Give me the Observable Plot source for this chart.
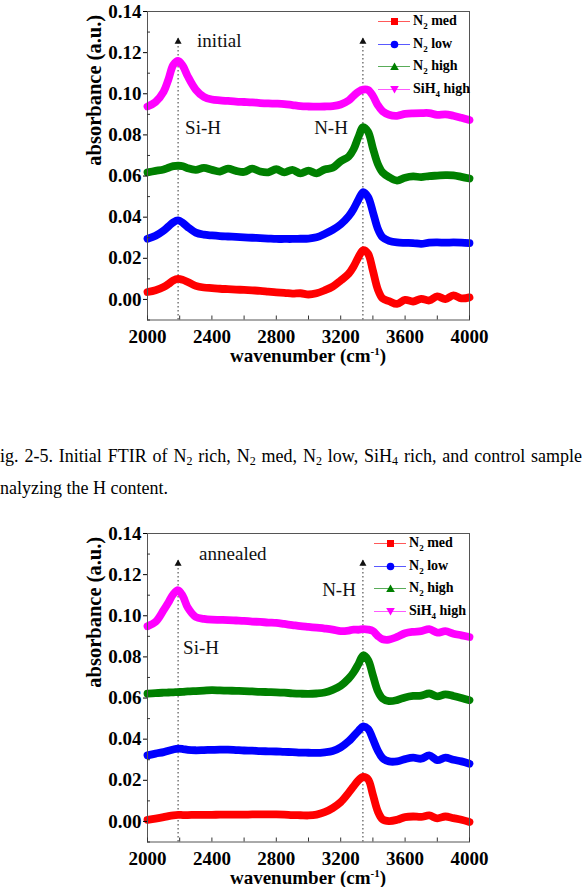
<!DOCTYPE html>
<html>
<head>
<meta charset="utf-8">
<script src="https://cdn.jsdelivr.net/npm/d3@7"></script>
<script src="https://cdn.jsdelivr.net/npm/@observablehq/plot@0.6"></script>
<style>
  html, body { margin: 0; padding: 0; background: #fff; }
  body { width: 588px; height: 887px; overflow: hidden; position: relative;
         font-family: "Liberation Serif", "Times New Roman", serif; }
  .panel { position: absolute; left: 0; width: 588px; }
  .panel svg { display: block; }
  .xtitle { position: absolute; left: 147px; width: 322px; text-align: center;
            font-size: 19px; font-weight: bold; line-height: 1; }
  .xtitle sup { font-size: 11px; vertical-align: 7px; }
  .legend { position: absolute; font-size: 14px; font-weight: bold; line-height: 1; }
  .legend .row { position: absolute; left: 0; height: 16px; white-space: nowrap; }
  .legend svg { position: absolute; left: 0; top: 0; overflow: visible; }
  .legend span.t { position: absolute; top: 0; }
  .legend sub { font-size: 9px; vertical-align: -4px; }
  .caption { position: absolute; font-size: 18px; white-space: nowrap; line-height: 1; }
  .caption sub { font-size: 12px; vertical-align: -3px; }
</style>
</head>
<body>
<script>
// Sampling grid in wavenumber (cm^-1) shared by every spectrum
const wavenumbers = [2000,2050,2100,2130,2160,2190,2220,2250,2300,2350,2400,2450,2500,2550,2600,2650,2700,2750,2800,2850,2900,2950,3000,3050,3100,3150,3200,3250,3280,3310,3340,3370,3400,3430,3460,3500,3550,3600,3650,3700,3750,3800,3850,3900,3950,4000];

// As-deposited (initial) absorbance
const initialN2med = [0.0036,0.0045,0.0060,0.0075,0.0092,0.0100,0.0095,0.0085,0.0066,0.0058,0.0055,0.0052,0.0050,0.0048,0.0046,0.0044,0.0042,0.0038,0.0034,0.0032,0.0028,0.0030,0.0024,0.0030,0.0044,0.0062,0.0092,0.0125,0.0160,0.0205,0.0240,0.0222,0.0140,0.0050,0.0005,-0.0008,-0.0022,-0.0002,-0.0010,0.0003,-0.0005,0.0015,0.0002,0.0020,0.0005,0.0010];
const initialN2low = [0.0295,0.0310,0.0335,0.0355,0.0375,0.0384,0.0372,0.0352,0.0325,0.0315,0.0311,0.0308,0.0306,0.0304,0.0302,0.0300,0.0298,0.0296,0.0294,0.0294,0.0294,0.0295,0.0296,0.0302,0.0318,0.0338,0.0365,0.0405,0.0440,0.0485,0.0522,0.0498,0.0425,0.0345,0.0302,0.0285,0.0277,0.0275,0.0274,0.0270,0.0276,0.0277,0.0276,0.0277,0.0276,0.0274];
const initialN2high = [0.0618,0.0625,0.0632,0.0640,0.0648,0.0650,0.0648,0.0638,0.0630,0.0640,0.0630,0.0622,0.0636,0.0625,0.0620,0.0636,0.0622,0.0618,0.0633,0.0618,0.0630,0.0613,0.0626,0.0613,0.0632,0.0640,0.0672,0.0695,0.0730,0.0790,0.0838,0.0815,0.0735,0.0660,0.0618,0.0595,0.0578,0.0592,0.0598,0.0595,0.0600,0.0602,0.0604,0.0603,0.0596,0.0588];
const initialSiH4high = [0.0938,0.0960,0.1010,0.1070,0.1140,0.1160,0.1135,0.1085,0.1020,0.0985,0.0972,0.0968,0.0965,0.0962,0.0960,0.0958,0.0955,0.0953,0.0952,0.0950,0.0945,0.0940,0.0938,0.0937,0.0938,0.0940,0.0948,0.0968,0.0990,0.1010,0.1020,0.1018,0.0990,0.0945,0.0915,0.0898,0.0893,0.0902,0.0905,0.0906,0.0906,0.0897,0.0900,0.0893,0.0883,0.0872];

// Absorbance after annealing
const annealedN2med = [0.0008,0.0014,0.0021,0.0026,0.0030,0.0032,0.0031,0.0031,0.0032,0.0032,0.0032,0.0033,0.0033,0.0033,0.0033,0.0034,0.0034,0.0034,0.0034,0.0033,0.0031,0.0030,0.0029,0.0033,0.0045,0.0065,0.0094,0.0140,0.0170,0.0200,0.0216,0.0205,0.0130,0.0050,0.0010,0.0002,0.0008,0.0021,0.0024,0.0022,0.0029,0.0015,0.0024,0.0016,0.0008,-0.0003];
const annealedN2low = [0.0321,0.0330,0.0337,0.0344,0.0350,0.0354,0.0352,0.0348,0.0346,0.0347,0.0348,0.0349,0.0349,0.0347,0.0345,0.0344,0.0342,0.0341,0.0340,0.0338,0.0337,0.0335,0.0334,0.0333,0.0336,0.0342,0.0360,0.0390,0.0415,0.0440,0.0462,0.0450,0.0400,0.0345,0.0308,0.0292,0.0292,0.0303,0.0310,0.0305,0.0321,0.0298,0.0310,0.0300,0.0292,0.0281];
const annealedN2high = [0.0621,0.0624,0.0626,0.0627,0.0628,0.0629,0.0630,0.0632,0.0634,0.0636,0.0638,0.0637,0.0636,0.0635,0.0634,0.0632,0.0630,0.0629,0.0628,0.0626,0.0623,0.0621,0.0620,0.0622,0.0627,0.0640,0.0660,0.0695,0.0725,0.0765,0.0808,0.0785,0.0710,0.0635,0.0598,0.0585,0.0590,0.0603,0.0610,0.0612,0.0622,0.0608,0.0618,0.0610,0.0600,0.0589];
const annealedSiH4high = [0.0949,0.0970,0.1027,0.1065,0.1105,0.1124,0.1095,0.1040,0.0994,0.0985,0.0981,0.0980,0.0979,0.0977,0.0975,0.0972,0.0970,0.0967,0.0965,0.0960,0.0955,0.0950,0.0946,0.0942,0.0938,0.0933,0.0925,0.0928,0.0933,0.0932,0.0935,0.0933,0.0926,0.0902,0.0886,0.0884,0.0897,0.0915,0.0922,0.0925,0.0935,0.0918,0.0925,0.0913,0.0905,0.0897];

// Samples, in legend order
const sampleKeys = ["N2 med", "N2 low", "N2 high", "SiH4 high"];
const sampleColors = ["#ff0000", "#0000ff", "#008000", "#ff00ff"];

// Axis ticks
const xTickLabels = [2000, 2400, 2800, 3200, 3600, 4000];
const xTickMinor = [2200, 2600, 3000, 3400, 3800];
const yTickLabels = [0.00, 0.02, 0.04, 0.06, 0.08, 0.10, 0.12, 0.14];
const yTickMinor = [-0.01, 0.01, 0.03, 0.05, 0.07, 0.09, 0.11, 0.13];

// Band assignments: Si-H stretch and N-H stretch positions
const bandWavenumbers = [2190, 3338];

// Panel annotations
const initialNotes = [
  {text: "initial", wn: 2190, abs: 0.1256, dx: 19, anchor: "start"},
  {text: "Si-H", wn: 2190, abs: 0.0835, dx: 7, anchor: "start"},
  {text: "N-H", wn: 3338, abs: 0.0835, dx: -15, anchor: "end"}
];
const annealedNotes = [
  {text: "annealed", wn: 2190, abs: 0.1303, dx: 21, anchor: "start"},
  {text: "Si-H", wn: 2190, abs: 0.0844, dx: 5, anchor: "start"},
  {text: "N-H", wn: 3338, abs: 0.1128, dx: -7, anchor: "end"}
];
const arrowTip = 0.1268;

function toRows(series) {
  const rows = [];
  series.forEach((values, k) => {
    values.forEach((abs, i) => rows.push({wn: wavenumbers[i], abs, sample: sampleKeys[k]}));
  });
  return rows;
}

const W = 588, H = 344;
const M = {top: 11, right: 119, bottom: 24.5, left: 147};
const innerW = W - M.left - M.right, innerH = H - M.top - M.bottom;
const serif = "'Liberation Serif', 'Times New Roman', serif";

// Each annotation carries its own offset and anchor
function notesMarks(notes) {
  return notes.map(n => Plot.text([n], {x: "wn", y: "abs", text: "text", dx: n.dx, textAnchor: n.anchor, fontSize: 19, fill: "#111"}));
}

function buildPanel(top, series, notes, legendPos) {
  const panel = document.createElement("div");
  panel.className = "panel";
  panel.style.top = top + "px";
  const rows = toRows(series);
  const svg = Plot.plot({
    width: W, height: H,
    marginTop: M.top, marginRight: M.right, marginBottom: M.bottom, marginLeft: M.left,
    style: {fontFamily: serif, background: "transparent", color: "#000", overflow: "visible"},
    x: {domain: [2000, 4000]},
    y: {domain: [-0.01, 0.14]},
    color: {domain: sampleKeys, range: sampleColors},
    marks: [
      Plot.ruleX(bandWavenumbers, {x: d => d, y1: -0.01, y2: arrowTip, stroke: "#333", strokeWidth: 1, strokeDasharray: "1.5,2.5"}),
      Plot.dot(bandWavenumbers, {x: d => d, y: arrowTip, dy: 3, symbol: "triangle", r: 2.6, fill: "#111", stroke: "none"}),
      Plot.line(rows, {x: "wn", y: "abs", z: "sample", stroke: "sample", strokeWidth: 7.8, curve: "catmull-rom", strokeLinecap: "round", strokeLinejoin: "round"}),
      Plot.frame({stroke: "#555", strokeWidth: 1}),
      Plot.tickX(xTickLabels.concat(xTickMinor), {x: d => d, insetTop: innerH - 4, stroke: "#333"}),
      Plot.tickY(yTickMinor, {y: d => d, insetRight: innerW - 3, stroke: "#333"}),
      Plot.axisX({ticks: xTickLabels, tickSize: 0, tickPadding: 9, tickFormat: d => String(d), fontSize: 19, fontWeight: "bold", label: null}),
      Plot.axisY({ticks: yTickLabels, tickSize: 4, tickPadding: 2, tickFormat: d3.format(".2f"), fontSize: 19, fontWeight: "bold", label: null}),
      Plot.text(["absorbance (a.u.)"], {frameAnchor: "left", rotate: -90, dx: -53, text: d => d, fontSize: 20.5, fontWeight: "bold", fill: "#000"}),
      ...notesMarks(notes)
    ]
  });
  panel.appendChild(svg);

  const xt = document.createElement("div");
  xt.className = "xtitle";
  xt.style.top = "346px";
  xt.innerHTML = "wavenumber (cm<sup>-1</sup>)";
  panel.appendChild(xt);

  // Legend: line + marker + label, one row per sample
  const lg = document.createElement("div");
  lg.className = "legend";
  lg.style.left = legendPos.left + "px";
  lg.style.top = legendPos.top + "px";
  const symbols = ["square", "circle", "triangle", "triangle2"];
  sampleKeys.forEach((key, i) => {
    const row = document.createElement("div");
    row.className = "row";
    row.style.top = (i * 22.6) + "px";
    const c = sampleColors[i];
    let shape;
    if (symbols[i] === "square") shape = `<rect x="13" y="4" width="7" height="7" fill="${c}"/>`;
    else if (symbols[i] === "circle") shape = `<circle cx="16.5" cy="7.5" r="3.8" fill="${c}"/>`;
    else if (symbols[i] === "triangle") shape = `<path d="M16.5,3.5 L20.8,11 L12.2,11 Z" fill="${c}"/>`;
    else shape = `<path d="M16.5,11.5 L20.8,4 L12.2,4 Z" fill="${c}"/>`;
    const label = key.replace(/(N|H)(\d)/, "$1<sub>$2</sub>");
    row.innerHTML = `<svg width="32" height="15"><line x1="0" x2="32" y1="7.5" y2="7.5" stroke="${c}" stroke-opacity="0.65" stroke-width="1"/>${shape}</svg><span class="t" style="left:35px">${label}</span>`;
    lg.appendChild(row);
  });
  panel.appendChild(lg);
  document.body.appendChild(panel);
}

buildPanel(0, [initialN2med, initialN2low, initialN2high, initialSiH4high], initialNotes, {left: 378, top: 14});

// Figure caption between the panels (page text starts at the left edge)
const cap1 = document.createElement("div");
cap1.className = "caption";
cap1.style.cssText = "left:0px; top:447px; width:582px; text-align:justify; text-align-last:justify;";
cap1.innerHTML = "ig. 2-5. Initial FTIR of N<sub>2</sub> rich, N<sub>2</sub> med, N<sub>2</sub> low, SiH<sub>4</sub> rich, and control sample";
document.body.appendChild(cap1);
const cap2 = document.createElement("div");
cap2.className = "caption";
cap2.style.cssText = "left:0px; top:479px;";
cap2.textContent = "nalyzing the H content.";
document.body.appendChild(cap2);

buildPanel(522, [annealedN2med, annealedN2low, annealedN2high, annealedSiH4high], annealedNotes, {left: 374, top: 14});
</script>
</body>
</html>
